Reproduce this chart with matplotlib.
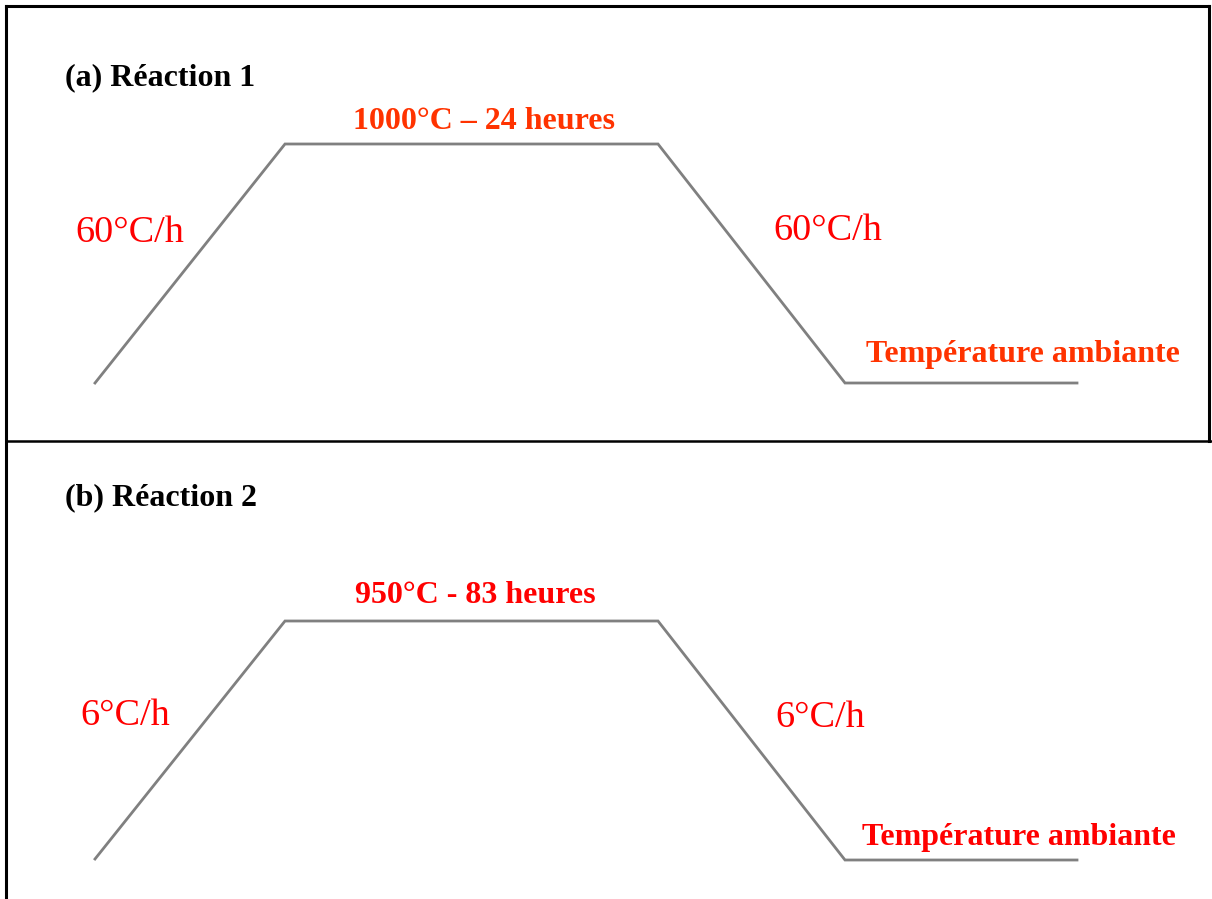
import matplotlib.pyplot as plt

# schematic heating profiles (x: time axis in image units, y: level)
stage_x = [95, 285, 658, 845, 1077]
top_y = [383, 144, 144, 383, 383]
bottom_y = [859, 621, 621, 860, 860]

panel_titles = ['(a) Réaction 1', '(b) Réaction 2']
plateau_labels = ['1000°C – 24 heures', '950°C - 83 heures']
rate_labels = ['60°C/h', '6°C/h']
ambient_label = 'Température ambiante'

fig = plt.figure(figsize=(12.12, 8.99), dpi=100)
ax = fig.add_axes([0, 0, 1, 1])
ax.set_xlim(0, 1212)
ax.set_ylim(899, 0)
ax.axis('off')

serif = ['Liberation Serif', 'DejaVu Serif']

# frame
ax.plot([6, 6], [6, 899], color='black', lw=2.2)
ax.plot([6, 1209], [6, 6], color='black', lw=2.2)
ax.plot([1209, 1209], [6, 441], color='black', lw=2.2)
ax.plot([6, 1212], [441, 441], color='black', lw=1.8)

# profiles
ax.plot(stage_x, top_y, color='#808080', lw=2.0, solid_joinstyle='miter')
ax.plot(stage_x, bottom_y, color='#808080', lw=2.0, solid_joinstyle='miter')

# panel (a)
ax.text(65, 85, panel_titles[0], fontsize=23, fontweight='bold', family=serif,
        color='black', va='baseline', ha='left')
ax.text(353, 129, plateau_labels[0], fontsize=23, fontweight='bold', family=serif,
        color='#ff3300', va='baseline', ha='left')
ax.text(75, 242, rate_labels[0], fontsize=27.5, family=serif,
        color='#ff0000', va='baseline', ha='left')
ax.text(773, 240, rate_labels[0], fontsize=27.5, family=serif,
        color='#ff0000', va='baseline', ha='left')
ax.text(866, 362, ambient_label, fontsize=23, fontweight='bold', family=serif,
        color='#ff3300', va='baseline', ha='left')

# panel (b)
ax.text(65, 505, panel_titles[1], fontsize=23, fontweight='bold', family=serif,
        color='black', va='baseline', ha='left')
ax.text(355, 603, plateau_labels[1], fontsize=23, fontweight='bold', family=serif,
        color='#ff0000', va='baseline', ha='left')
ax.text(80, 725, rate_labels[1], fontsize=27.5, family=serif,
        color='#ff0000', va='baseline', ha='left')
ax.text(775, 727, rate_labels[1], fontsize=27.5, family=serif,
        color='#ff0000', va='baseline', ha='left')
ax.text(862, 845, ambient_label, fontsize=23, fontweight='bold', family=serif,
        color='#ff0000', va='baseline', ha='left')

fig.savefig('out.png', dpi=100, facecolor='white')
